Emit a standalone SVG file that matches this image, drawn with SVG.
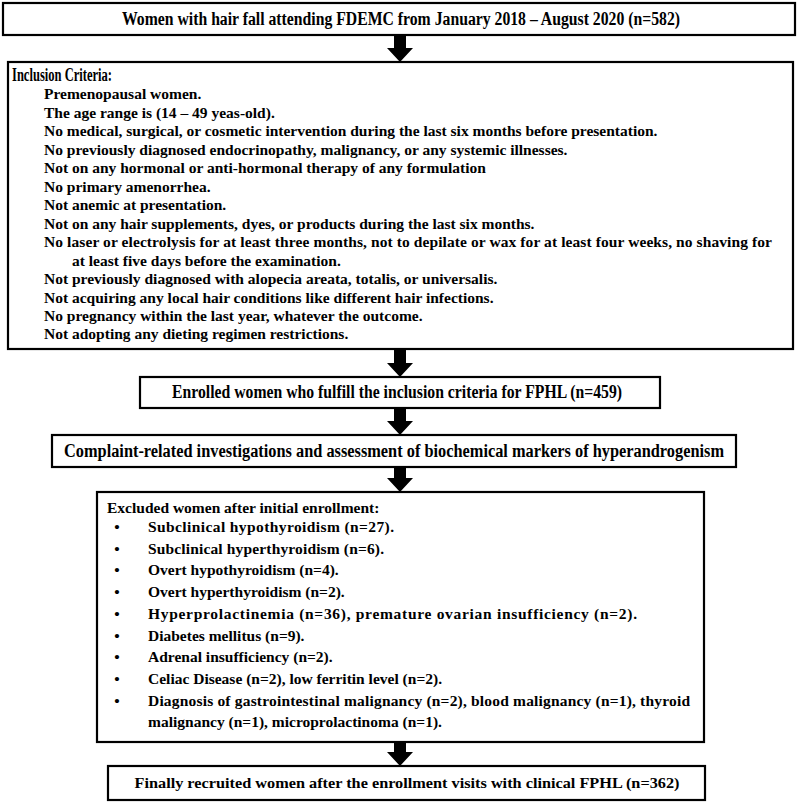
<svg xmlns="http://www.w3.org/2000/svg" width="800" height="806" viewBox="0 0 800 806">
<style>
.box{fill:#fff;stroke:#000;stroke-width:2.2}
.t{font-family:"Liberation Serif","Times New Roman",serif;font-weight:bold;fill:#000}
.h{font-size:18px}
.l{font-size:15.5px}
.c{text-anchor:middle}
.arr{fill:#000}
</style>
<rect width="800" height="806" fill="#fff"/>
<g id="connectors">
<path class="arr" d="M394,36 H406 V48 H413 L400,62 L387,48 H394 Z"/>
<path class="arr" d="M394,350 H406 V363 H413 L400,377 L387,363 H394 Z"/>
<path class="arr" d="M394,409 H406 V421 H413 L400,435 L387,421 H394 Z"/>
<path class="arr" d="M394,468 H406 V478 H413 L400,492 L387,478 H394 Z"/>
<path class="arr" d="M394,743 H406 V752 H413 L400,766 L387,752 H394 Z"/>
</g>
<g id="n1">
<rect class="box" x="3" y="3" width="792" height="32"/>
<text class="t h c" x="401" y="25" textLength="558" lengthAdjust="spacingAndGlyphs">Women with hair fall attending FDEMC from January 2018 – August 2020 (n=582)</text>
</g>
<g id="n2">
<rect class="box" x="8" y="62" width="785" height="287"/>
<text class="t h" x="12" y="81" textLength="100" lengthAdjust="spacingAndGlyphs">Inclusion Criteria:</text>
<text class="t l" x="44" y="99">Premenopausal women.</text>
<text class="t l" x="44" y="117.5">The age range is (14 – 49 yeas-old).</text>
<text class="t l" x="44" y="136">No medical, surgical, or cosmetic intervention during the last six months before presentation.</text>
<text class="t l" x="44" y="154.5">No previously diagnosed endocrinopathy, malignancy, or any systemic illnesses.</text>
<text class="t l" x="44" y="173">Not on any hormonal or anti-hormonal therapy of any formulation</text>
<text class="t l" x="44" y="191.5">No primary amenorrhea.</text>
<text class="t l" x="44" y="210">Not anemic at presentation.</text>
<text class="t l" x="44" y="228.5">Not on any hair supplements, dyes, or products during the last six months.</text>
<text class="t l" x="44" y="247" textLength="728" lengthAdjust="spacing">No laser or electrolysis for at least three months, not to depilate or wax for at least four weeks, no shaving for</text>
<text class="t l" x="72" y="265.5">at least five days before the examination.</text>
<text class="t l" x="44" y="284">Not previously diagnosed with alopecia areata, totalis, or universalis.</text>
<text class="t l" x="44" y="302.5">Not acquiring any local hair conditions like different hair infections.</text>
<text class="t l" x="44" y="321">No pregnancy within the last year, whatever the outcome.</text>
<text class="t l" x="44" y="339">Not adopting any dieting regimen restrictions.</text>
</g>
<g id="n3">
<rect class="box" x="140" y="377" width="520" height="31"/>
<text class="t h c" x="397" y="398" textLength="450" lengthAdjust="spacingAndGlyphs">Enrolled women who fulfill the inclusion criteria for FPHL (n=459)</text>
</g>
<g id="n4">
<rect class="box" x="52" y="435" width="684" height="32"/>
<text class="t h c" x="394" y="457" textLength="660" lengthAdjust="spacingAndGlyphs">Complaint-related investigations and assessment of biochemical markers of hyperandrogenism</text>
</g>
<g id="n5">
<rect class="box" x="97" y="492" width="607" height="250"/>
<text class="t l" x="107" y="513">Excluded women after initial enrollment:</text>
<g class="t l c">
<text x="117" y="532">•</text><text x="117" y="553.7">•</text><text x="117" y="575.4">•</text><text x="117" y="597.1">•</text><text x="117" y="618.8">•</text><text x="117" y="640.5">•</text><text x="117" y="662.2">•</text><text x="117" y="683.9">•</text><text x="117" y="705.6">•</text>
</g>
<text class="t l" x="148" y="532" textLength="246" lengthAdjust="spacing">Subclinical hypothyroidism (n=27).</text>
<text class="t l" x="148" y="553.7" textLength="236" lengthAdjust="spacing">Subclinical hyperthyroidism (n=6).</text>
<text class="t l" x="148" y="575.4">Overt hypothyroidism (n=4).</text>
<text class="t l" x="148" y="597.1">Overt hyperthyroidism (n=2).</text>
<text class="t l" x="148" y="618.8" textLength="489" lengthAdjust="spacing">Hyperprolactinemia (n=36), premature ovarian insufficiency (n=2).</text>
<text class="t l" x="148" y="640.5">Diabetes mellitus (n=9).</text>
<text class="t l" x="148" y="662.2">Adrenal insufficiency (n=2).</text>
<text class="t l" x="148" y="683.9">Celiac Disease (n=2), low ferritin level (n=2).</text>
<text class="t l" x="148" y="705.6" textLength="542" lengthAdjust="spacing">Diagnosis of gastrointestinal malignancy (n=2), blood malignancy (n=1), thyroid</text>
<text class="t l" x="148" y="727.3">malignancy (n=1), microprolactinoma (n=1).</text>
</g>
<g id="n6">
<rect class="box" x="108" y="766" width="597" height="34"/>
<text class="t l c" x="407" y="788" textLength="545" lengthAdjust="spacingAndGlyphs">Finally recruited women after the enrollment visits with clinical FPHL (n=362)</text>
</g>
</svg>
